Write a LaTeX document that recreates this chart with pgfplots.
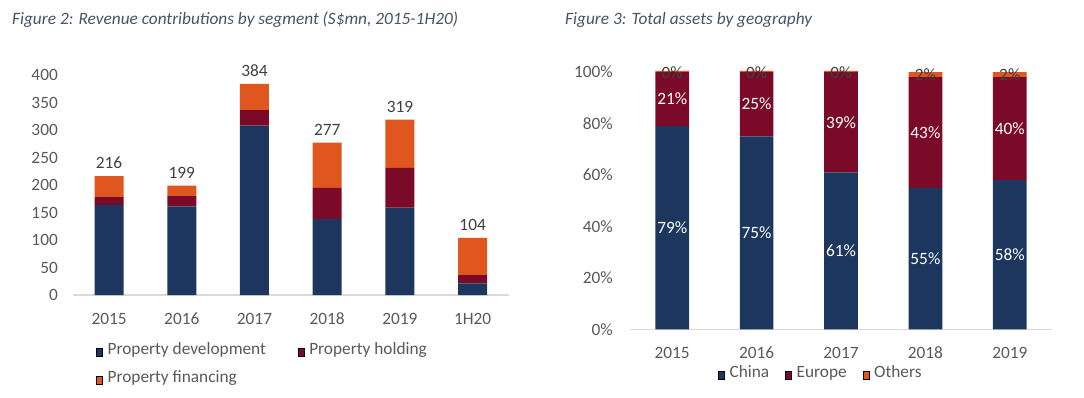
\documentclass[border=0pt]{standalone}
\usepackage{fontspec}
\setmainfont{Carlito}
\usepackage{pgfplots}
\pgfplotsset{compat=1.18}
\definecolor{cnavy}{HTML}{1D365E}
\definecolor{cmaroon}{HTML}{7A0A28}
\definecolor{corange}{HTML}{E0561F}
\definecolor{ctitle}{HTML}{44546A}
\definecolor{ctick}{HTML}{595959}
\definecolor{clabel}{HTML}{404040}
\definecolor{caxis}{HTML}{D9D9D9}
\newcommand{\fs}{\fontsize{17.3}{20}\selectfont}
\pgfplotsset{
 mybase/.style={scale only axis, anchor=south west,
   axis x line*=bottom, axis y line*=left,
   y axis line style={draw=none}, x axis line style={draw=caxis,line width=1.2pt},
   major tick length=0pt, tick style={draw=none},
   tick label style={font=\fs, text=ctick},
   /pgf/number format/assume math mode=true,
   xticklabel style={anchor=base, inner sep=0pt, yshift=-29.5pt},
   clip=false, legend cell align=left,
   legend style={draw=none, fill=none, inner sep=0pt, font=\fs, text=ctick,
     nodes={inner sep=0pt}, cells={anchor=base west},
     /tikz/every odd column/.append style={column sep=5pt}},
   legend image code/.code={\path (0pt,0pt); \fill[##1] (0pt,3.5pt) rectangle (9pt,13.2pt);}},
 labaxis/.style={scale only axis, anchor=south west, hide axis, clip=false,
   /pgf/number format/assume math mode=true, point meta=explicit},
}
\begin{document}
\begin{tikzpicture}[x=1pt,y=1pt]
\useasboundingbox (0,0) rectangle (1084,397);
\node[anchor=base west, inner sep=0pt, font=\fs\itshape, text=ctitle] at (12,372) {Figure 2: Revenue contributions by segment (S\$mn, 2015-1H20)};
\node[anchor=base west, inner sep=0pt, font=\fs\itshape, text=ctitle] at (565,372) {Figure 3: Total assets by geography};

\begin{axis}[mybase, at={(72.7pt,102pt)}, width=436.3pt, height=220pt,
  ybar stacked, bar width=29pt,
  xmin=-0.5, xmax=5.5, ymin=0, ymax=400,
  xtick={0,...,5}, xticklabels={2015,2016,2017,2018,2019,1H20},
  ytick={0,50,...,400},
  yticklabel style={anchor=east, inner sep=0pt, xshift=-14.7pt},
  legend columns=2,
  legend style={at={(axis description cs:0.0534,-0.2136)}, anchor=north west, row sep=14pt,
    /tikz/every even column/.append style={column sep=32pt}}]
\addplot[fill=cnavy, draw=none] coordinates {(0,164) (1,161) (2,308) (3,138) (4,159) (5,21)};
\addplot[fill=cmaroon, draw=none] coordinates {(0,14) (1,19) (2,28) (3,57) (4,72) (5,15)};
\addplot[fill=corange, draw=none] coordinates {(0,38) (1,19) (2,48) (3,82) (4,88) (5,68)};
\legend{Property development, Property holding, Property financing}
\end{axis}

\begin{axis}[labaxis, at={(72.7pt,102pt)}, width=436.3pt, height=220pt,
  xmin=-0.5, xmax=5.5, ymin=0, ymax=400]
\addplot[draw=none, mark=none, nodes near coords,
  nodes near coords style={anchor=base, inner sep=0pt, yshift=7.5pt, text=clabel, font=\fs}]
  coordinates {(0,216) [216] (1,199) [199] (2,384) [384] (3,277) [277] (4,319) [319] (5,104) [104]};
\end{axis}

\begin{axis}[mybase, at={(630pt,67.7pt)}, width=422pt, height=257.3pt,
  ybar stacked, bar width=33.7pt,
  xmin=-0.5, xmax=4.5, ymin=0, ymax=100,
  xtick={0,...,4}, xticklabels={2015,2016,2017,2018,2019},
  ytick={0,20,...,100}, yticklabel={\pgfmathprintnumber{\tick}\%},
  yticklabel style={anchor=east, inner sep=0pt, xshift=-17pt},
  legend columns=3,
  legend style={at={(axis description cs:0.2085,-0.168)}, anchor=west,
    /tikz/every even column/.append style={column sep=16pt}}]
\addplot[fill=cnavy, draw=none] coordinates {(0,79) (1,75) (2,61) (3,55) (4,58)};
\addplot[fill=cmaroon, draw=none] coordinates {(0,21) (1,25) (2,39) (3,43) (4,40)};
\addplot[fill=corange, draw=none] coordinates {(0,0.4) (1,0.4) (2,0.4) (3,2) (4,2)};
\legend{China, Europe, Others}
\end{axis}

\begin{axis}[labaxis, at={(630pt,67.7pt)}, width=422pt, height=257.3pt,
  xmin=-0.5, xmax=4.5, ymin=0, ymax=100,
  nodes near coords={\pgfmathprintnumber{\pgfplotspointmeta}\%}]
\addplot[draw=none, mark=none, nodes near coords style={anchor=center, inner sep=0pt, text=white, font=\fs}]
  coordinates {(0,39.5) [79] (1,37.5) [75] (2,30.5) [61] (3,27.5) [55] (4,29) [58]};
\addplot[draw=none, mark=none, nodes near coords style={anchor=center, inner sep=0pt, text=white, font=\fs}]
  coordinates {(0,89.5) [21] (1,87.5) [25] (2,80.5) [39] (3,76.5) [43] (4,78) [40]};
\addplot[draw=none, mark=none, nodes near coords style={anchor=center, inner sep=0pt, text=clabel, font=\fs}]
  coordinates {(0,99.6) [0] (1,99.6) [0] (2,99.6) [0] (3,98.8) [2] (4,98.8) [2]};
\end{axis}
\end{tikzpicture}
\end{document}
